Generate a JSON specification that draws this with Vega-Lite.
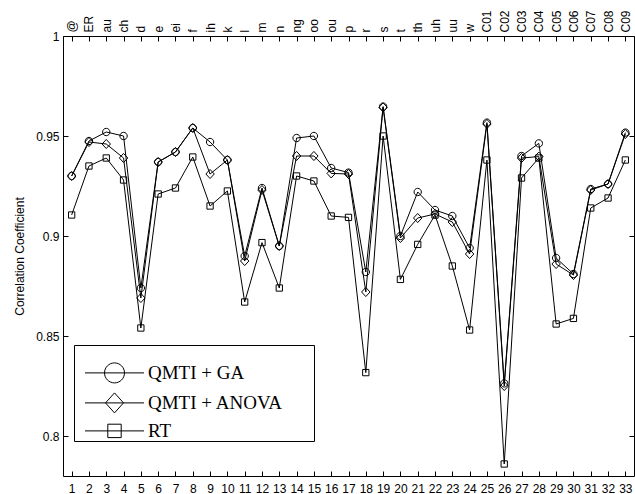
{
  "$schema": "https://vega.github.io/schema/vega-lite/v6.json",
  "width": 571,
  "height": 440,
  "autosize": "none",
  "padding": {"left": 63, "top": 36, "right": 1, "bottom": 18},
  "background": "white",
  "config": {
    "view": {"stroke": "black", "strokeWidth": 1},
    "axis": {"labelFont": "Liberation Sans", "titleFont": "Liberation Sans", "labelColor": "black", "titleColor": "black", "tickColor": "black", "domain": false, "grid": false, "labelFontSize": 12, "titleFontSize": 12, "titleFontWeight": "normal", "tickSize": -5}
  },
  "data": {"values": [
    {"x":1,"series":"QMTI + GA","value":0.930},{"x":2,"series":"QMTI + GA","value":0.9475},{"x":3,"series":"QMTI + GA","value":0.952},{"x":4,"series":"QMTI + GA","value":0.950},{"x":5,"series":"QMTI + GA","value":0.874},{"x":6,"series":"QMTI + GA","value":0.937},{"x":7,"series":"QMTI + GA","value":0.942},{"x":8,"series":"QMTI + GA","value":0.954},{"x":9,"series":"QMTI + GA","value":0.947},{"x":10,"series":"QMTI + GA","value":0.938},{"x":11,"series":"QMTI + GA","value":0.890},{"x":12,"series":"QMTI + GA","value":0.924},{"x":13,"series":"QMTI + GA","value":0.895},{"x":14,"series":"QMTI + GA","value":0.949},{"x":15,"series":"QMTI + GA","value":0.950},{"x":16,"series":"QMTI + GA","value":0.934},{"x":17,"series":"QMTI + GA","value":0.9317},{"x":18,"series":"QMTI + GA","value":0.882},{"x":19,"series":"QMTI + GA","value":0.9647},{"x":20,"series":"QMTI + GA","value":0.900},{"x":21,"series":"QMTI + GA","value":0.922},{"x":22,"series":"QMTI + GA","value":0.913},{"x":23,"series":"QMTI + GA","value":0.910},{"x":24,"series":"QMTI + GA","value":0.894},{"x":25,"series":"QMTI + GA","value":0.9567},{"x":26,"series":"QMTI + GA","value":0.8263},{"x":27,"series":"QMTI + GA","value":0.940},{"x":28,"series":"QMTI + GA","value":0.9463},{"x":29,"series":"QMTI + GA","value":0.889},{"x":30,"series":"QMTI + GA","value":0.881},{"x":31,"series":"QMTI + GA","value":0.9235},{"x":32,"series":"QMTI + GA","value":0.926},{"x":33,"series":"QMTI + GA","value":0.9517},
    {"x":1,"series":"QMTI + ANOVA","value":0.930},{"x":2,"series":"QMTI + ANOVA","value":0.947},{"x":3,"series":"QMTI + ANOVA","value":0.946},{"x":4,"series":"QMTI + ANOVA","value":0.939},{"x":5,"series":"QMTI + ANOVA","value":0.869},{"x":6,"series":"QMTI + ANOVA","value":0.937},{"x":7,"series":"QMTI + ANOVA","value":0.942},{"x":8,"series":"QMTI + ANOVA","value":0.954},{"x":9,"series":"QMTI + ANOVA","value":0.931},{"x":10,"series":"QMTI + ANOVA","value":0.938},{"x":11,"series":"QMTI + ANOVA","value":0.8875},{"x":12,"series":"QMTI + ANOVA","value":0.923},{"x":13,"series":"QMTI + ANOVA","value":0.895},{"x":14,"series":"QMTI + ANOVA","value":0.940},{"x":15,"series":"QMTI + ANOVA","value":0.940},{"x":16,"series":"QMTI + ANOVA","value":0.9313},{"x":17,"series":"QMTI + ANOVA","value":0.931},{"x":18,"series":"QMTI + ANOVA","value":0.872},{"x":19,"series":"QMTI + ANOVA","value":0.9643},{"x":20,"series":"QMTI + ANOVA","value":0.899},{"x":21,"series":"QMTI + ANOVA","value":0.909},{"x":22,"series":"QMTI + ANOVA","value":0.911},{"x":23,"series":"QMTI + ANOVA","value":0.907},{"x":24,"series":"QMTI + ANOVA","value":0.891},{"x":25,"series":"QMTI + ANOVA","value":0.956},{"x":26,"series":"QMTI + ANOVA","value":0.825},{"x":27,"series":"QMTI + ANOVA","value":0.939},{"x":28,"series":"QMTI + ANOVA","value":0.9397},{"x":29,"series":"QMTI + ANOVA","value":0.886},{"x":30,"series":"QMTI + ANOVA","value":0.8805},{"x":31,"series":"QMTI + ANOVA","value":0.923},{"x":32,"series":"QMTI + ANOVA","value":0.926},{"x":33,"series":"QMTI + ANOVA","value":0.951},
    {"x":1,"series":"RT","value":0.9105},{"x":2,"series":"RT","value":0.935},{"x":3,"series":"RT","value":0.939},{"x":4,"series":"RT","value":0.928},{"x":5,"series":"RT","value":0.854},{"x":6,"series":"RT","value":0.921},{"x":7,"series":"RT","value":0.924},{"x":8,"series":"RT","value":0.9395},{"x":9,"series":"RT","value":0.915},{"x":10,"series":"RT","value":0.9225},{"x":11,"series":"RT","value":0.867},{"x":12,"series":"RT","value":0.8967},{"x":13,"series":"RT","value":0.874},{"x":14,"series":"RT","value":0.930},{"x":15,"series":"RT","value":0.9275},{"x":16,"series":"RT","value":0.910},{"x":17,"series":"RT","value":0.9093},{"x":18,"series":"RT","value":0.8317},{"x":19,"series":"RT","value":0.950},{"x":20,"series":"RT","value":0.8783},{"x":21,"series":"RT","value":0.8958},{"x":22,"series":"RT","value":0.9105},{"x":23,"series":"RT","value":0.885},{"x":24,"series":"RT","value":0.853},{"x":25,"series":"RT","value":0.938},{"x":26,"series":"RT","value":0.786},{"x":27,"series":"RT","value":0.929},{"x":28,"series":"RT","value":0.939},{"x":29,"series":"RT","value":0.856},{"x":30,"series":"RT","value":0.8588},{"x":31,"series":"RT","value":0.914},{"x":32,"series":"RT","value":0.919},{"x":33,"series":"RT","value":0.938}
  ]},
  "layer": [
    {
      "mark": {"type": "line", "color": "black", "strokeWidth": 1},
      "encoding": {
        "x": {"field": "x", "type": "quantitative", "scale": {"domain": [0.5, 33.5], "nice": false, "zero": false},
              "axis": {"orient": "bottom", "values": [1,2,3,4,5,6,7,8,9,10,11,12,13,14,15,16,17,18,19,20,21,22,23,24,25,26,27,28,29,30,31,32,33], "format": "d", "title": null, "labelPadding": 12, "labelFlush": false, "labelOverlap": false}},
        "y": {"field": "value", "type": "quantitative", "scale": {"domain": [0.78, 1], "nice": false, "zero": false},
              "axis": {"orient": "left", "values": [0.8, 0.85, 0.9, 0.95, 1], "format": "~g", "title": "Correlation Coefficient", "labelPadding": 9, "titlePadding": 9}},
        "detail": {"field": "series"}
      }
    },
    {
      "transform": [{"filter": "datum.series === 'QMTI + GA'"}],
      "mark": {"type": "point", "filled": false, "color": "black", "strokeWidth": 1, "opacity": 1, "size": 49, "shape": "M-1.05,0A1.05,1.05 0 1,1 1.05,0A1.05,1.05 0 1,1 -1.05,0Z"},
      "encoding": {
        "x": {"field": "x", "type": "quantitative",
              "axis": {"orient": "top", "values": [1,2,3,4,5,6,7,8,9,10,11,12,13,14,15,16,17,18,19,20,21,22,23,24,25,26,27,28,29,30,31,32,33], "title": null, "labelAngle": 270, "labelAlign": "left", "labelBaseline": "middle", "labelPadding": 9, "labelFlush": false, "labelOverlap": false,
                       "labelExpr": "['@','ER','au','ch','d','e','ei','f','ih','k','l','m','n','ng','oo','ou','p','r','s','t','th','uh','uu','w','C01','C02','C03','C04','C05','C06','C07','C08','C09'][datum.value-1]"}},
        "y": {"field": "value", "type": "quantitative",
              "axis": {"orient": "right", "values": [0.8, 0.85, 0.9, 0.95, 1], "labels": false, "title": null}}
      }
    },
    {
      "transform": [{"filter": "datum.series === 'QMTI + ANOVA'"}],
      "mark": {"type": "point", "filled": false, "color": "black", "strokeWidth": 1, "opacity": 1, "size": 49, "shape": "M-1.2,0L0,-1.3L1.2,0L0,1.3Z"},
      "encoding": {
        "x": {"field": "x", "type": "quantitative", "axis": null},
        "y": {"field": "value", "type": "quantitative", "axis": null}
      }
    },
    {
      "transform": [{"filter": "datum.series === 'RT'"}],
      "mark": {"type": "point", "filled": false, "color": "black", "strokeWidth": 1, "opacity": 1, "size": 49, "shape": "M-0.9,-0.9H0.9V0.9H-0.9Z"},
      "encoding": {
        "x": {"field": "x", "type": "quantitative", "axis": null},
        "y": {"field": "value", "type": "quantitative", "axis": null}
      }
    },
    {
      "mark": {"type": "point", "filled": false, "color": "black", "strokeWidth": 1, "opacity": 0, "size": 400},
      "encoding": {
        "x": {"field": "x", "type": "quantitative", "axis": null},
        "y": {"field": "value", "type": "quantitative", "axis": null},
        "shape": {"field": "series", "type": "nominal",
                  "scale": {"domain": ["QMTI + GA", "QMTI + ANOVA", "RT"],
                            "range": ["M-2.95,0H2.95M-1,0A1,1 0 1,1 1,0A1,1 0 1,1 -1,0M19.75,0", "M-2.95,0H2.95M-0.9,0L0,-1L0.9,0L0,1ZM19.75,0", "M-2.95,0H2.95M-0.67,-0.67H0.67V0.67H-0.67ZM19.75,0"]},
                  "legend": {"orient": "none", "legendX": 11, "legendY": 309, "title": " ", "titleFontSize": 8, "titlePadding": 9.4,
                             "padding": 0, "strokeColor": "black", "fillColor": "white",
                             "labelFont": "Liberation Serif", "labelFontSize": 19, "labelColor": "black", "labelLimit": 300,
                             "symbolSize": 400, "symbolOffset": 30, "labelOffset": 23, "rowPadding": 5,
                             "symbolOpacity": 1, "symbolStrokeColor": "black", "symbolFillColor": "transparent", "symbolStrokeWidth": 1}}
      }
    }
  ]
}
